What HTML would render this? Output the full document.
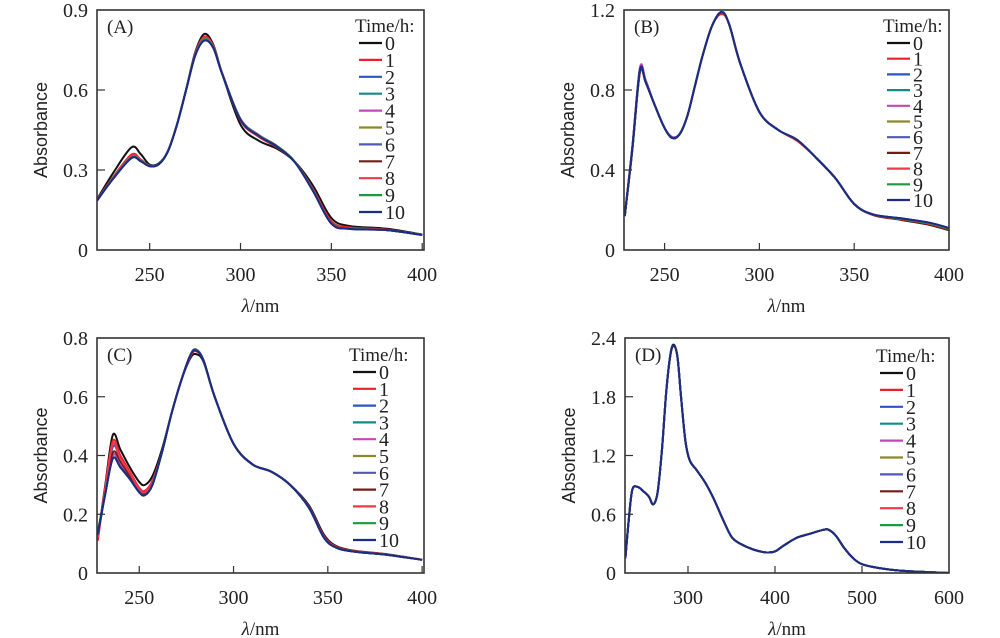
<!DOCTYPE html>
<html><head><meta charset="utf-8"><style>
html,body{margin:0;padding:0;background:#fff;}
svg{display:block;}
svg text{font-family:"Liberation Serif","DejaVu Serif",serif;fill:#222;}
svg text.sans{font-family:"Liberation Sans",sans-serif;}
</style></head><body>
<svg id="fig" width="1000" height="638" viewBox="0 0 1000 638" xmlns="http://www.w3.org/2000/svg"></svg>
<script>
const seriesLabels = ["0","1","2","3","4","5","6","7","8","9","10"];
const seriesColors = ["#111111","#e8202a","#2a55c8","#138a8a","#c048b8","#8a8a2a","#5058b8","#7a1818","#f0384a","#1a9a3a","#1c2a88"];

// Panel A
const wlA = [221,230,240,245,250,255,260,265,270,275,280,285,290,300,310,320,330,340,350,360,380,400];
const seriesA = [
 [0.190,0.290,0.385,0.360,0.320,0.325,0.370,0.470,0.600,0.740,0.810,0.770,0.660,0.470,0.410,0.380,0.330,0.240,0.120,0.090,0.080,0.058],
 [0.188,0.275,0.358,0.340,0.316,0.322,0.370,0.470,0.600,0.735,0.800,0.765,0.660,0.485,0.425,0.385,0.330,0.228,0.108,0.085,0.077,0.057],
 [0.186,0.270,0.348,0.335,0.315,0.322,0.370,0.470,0.600,0.730,0.790,0.760,0.660,0.490,0.430,0.390,0.330,0.222,0.100,0.080,0.075,0.057],
 [0.186,0.270,0.350,0.336,0.315,0.322,0.370,0.470,0.600,0.730,0.792,0.760,0.660,0.490,0.430,0.390,0.330,0.222,0.100,0.080,0.075,0.057],
 [0.187,0.272,0.352,0.337,0.316,0.322,0.370,0.470,0.600,0.732,0.795,0.762,0.662,0.492,0.432,0.390,0.330,0.223,0.101,0.080,0.075,0.057],
 [0.186,0.270,0.348,0.335,0.315,0.322,0.370,0.470,0.600,0.730,0.790,0.760,0.660,0.490,0.430,0.390,0.330,0.222,0.100,0.080,0.075,0.057],
 [0.185,0.268,0.345,0.333,0.314,0.321,0.369,0.469,0.598,0.728,0.786,0.758,0.658,0.488,0.428,0.388,0.328,0.220,0.099,0.079,0.075,0.056],
 [0.186,0.270,0.348,0.335,0.315,0.322,0.370,0.470,0.600,0.730,0.790,0.760,0.660,0.490,0.430,0.390,0.330,0.222,0.100,0.080,0.075,0.057],
 [0.187,0.272,0.352,0.337,0.316,0.322,0.370,0.470,0.600,0.732,0.794,0.762,0.661,0.490,0.430,0.390,0.330,0.223,0.101,0.080,0.075,0.057],
 [0.186,0.270,0.348,0.335,0.315,0.322,0.370,0.470,0.600,0.730,0.790,0.760,0.660,0.490,0.430,0.390,0.330,0.222,0.100,0.080,0.075,0.057],
 [0.185,0.268,0.345,0.333,0.314,0.321,0.369,0.469,0.598,0.728,0.785,0.758,0.658,0.488,0.428,0.388,0.328,0.220,0.099,0.079,0.075,0.056]
];
// Panel B
const wlB = [229,233,237,240,245,250,254,258,262,266,270,275,280,284,290,300,310,320,330,340,350,360,375,390,400];
const seriesB = [
 [0.17,0.50,0.89,0.84,0.72,0.61,0.56,0.58,0.67,0.82,0.97,1.12,1.19,1.13,0.93,0.69,0.60,0.55,0.46,0.36,0.23,0.175,0.150,0.125,0.098],
 [0.17,0.51,0.90,0.84,0.72,0.61,0.56,0.58,0.67,0.82,0.97,1.12,1.18,1.13,0.93,0.69,0.60,0.545,0.46,0.36,0.23,0.175,0.152,0.128,0.100],
 [0.17,0.51,0.91,0.85,0.72,0.61,0.565,0.58,0.67,0.82,0.97,1.12,1.19,1.13,0.93,0.69,0.60,0.55,0.46,0.36,0.23,0.178,0.158,0.135,0.108],
 [0.17,0.51,0.90,0.84,0.72,0.61,0.56,0.58,0.67,0.82,0.97,1.12,1.19,1.13,0.93,0.69,0.60,0.55,0.46,0.36,0.23,0.177,0.156,0.133,0.106],
 [0.17,0.52,0.91,0.85,0.72,0.61,0.565,0.58,0.67,0.82,0.97,1.12,1.19,1.13,0.93,0.69,0.60,0.55,0.46,0.36,0.23,0.177,0.156,0.133,0.106],
 [0.17,0.51,0.90,0.84,0.72,0.61,0.56,0.58,0.67,0.82,0.97,1.12,1.19,1.13,0.93,0.69,0.60,0.55,0.46,0.36,0.23,0.177,0.156,0.133,0.106],
 [0.17,0.51,0.90,0.84,0.72,0.61,0.56,0.58,0.67,0.82,0.97,1.12,1.19,1.13,0.93,0.69,0.60,0.55,0.46,0.36,0.23,0.178,0.158,0.135,0.108],
 [0.17,0.50,0.89,0.84,0.72,0.61,0.56,0.58,0.67,0.82,0.97,1.12,1.19,1.13,0.93,0.69,0.60,0.55,0.46,0.36,0.23,0.176,0.153,0.130,0.102],
 [0.17,0.51,0.90,0.84,0.72,0.61,0.56,0.58,0.67,0.82,0.97,1.12,1.19,1.13,0.93,0.69,0.60,0.55,0.46,0.36,0.23,0.177,0.155,0.132,0.105],
 [0.17,0.51,0.90,0.84,0.72,0.61,0.56,0.58,0.67,0.82,0.97,1.12,1.19,1.13,0.93,0.69,0.60,0.55,0.46,0.36,0.23,0.177,0.156,0.133,0.106],
 [0.17,0.51,0.90,0.84,0.72,0.61,0.56,0.58,0.67,0.82,0.97,1.12,1.19,1.13,0.93,0.69,0.60,0.55,0.46,0.36,0.23,0.178,0.158,0.136,0.110]
];
// Panel C
const wlC = [228,232,236,240,245,250,253,257,262,267,272,277,280,284,290,300,310,320,330,340,348,355,365,380,400];
const seriesC = [
 [0.12,0.30,0.47,0.42,0.36,0.31,0.300,0.33,0.42,0.54,0.65,0.73,0.745,0.72,0.60,0.44,0.37,0.345,0.30,0.23,0.13,0.090,0.075,0.065,0.045],
 [0.11,0.29,0.45,0.40,0.345,0.29,0.280,0.315,0.41,0.54,0.65,0.735,0.755,0.725,0.60,0.44,0.37,0.345,0.30,0.225,0.125,0.088,0.074,0.064,0.045],
 [0.13,0.28,0.43,0.39,0.335,0.285,0.272,0.31,0.41,0.54,0.65,0.74,0.760,0.725,0.60,0.44,0.37,0.345,0.30,0.222,0.120,0.085,0.072,0.063,0.045],
 [0.14,0.27,0.40,0.37,0.325,0.28,0.268,0.305,0.41,0.54,0.65,0.74,0.760,0.725,0.60,0.44,0.37,0.345,0.30,0.222,0.120,0.085,0.072,0.063,0.045],
 [0.13,0.27,0.40,0.37,0.325,0.28,0.268,0.305,0.41,0.54,0.65,0.74,0.762,0.725,0.60,0.44,0.37,0.345,0.30,0.222,0.120,0.085,0.072,0.063,0.045],
 [0.14,0.27,0.39,0.36,0.32,0.275,0.265,0.30,0.41,0.54,0.65,0.74,0.760,0.725,0.60,0.44,0.37,0.345,0.30,0.222,0.120,0.085,0.072,0.063,0.045],
 [0.13,0.27,0.39,0.36,0.32,0.275,0.265,0.30,0.41,0.54,0.65,0.74,0.760,0.725,0.60,0.44,0.37,0.345,0.30,0.222,0.120,0.085,0.072,0.063,0.045],
 [0.13,0.28,0.41,0.38,0.33,0.28,0.270,0.305,0.41,0.54,0.65,0.74,0.758,0.725,0.60,0.44,0.37,0.345,0.30,0.224,0.122,0.086,0.073,0.064,0.045],
 [0.12,0.29,0.44,0.39,0.34,0.285,0.275,0.31,0.41,0.54,0.65,0.74,0.758,0.725,0.60,0.44,0.37,0.345,0.30,0.224,0.122,0.086,0.073,0.064,0.045],
 [0.14,0.27,0.39,0.36,0.32,0.275,0.265,0.30,0.41,0.54,0.65,0.74,0.760,0.725,0.60,0.44,0.37,0.345,0.30,0.222,0.120,0.085,0.072,0.063,0.045],
 [0.13,0.27,0.39,0.36,0.32,0.275,0.265,0.30,0.41,0.54,0.65,0.74,0.758,0.725,0.60,0.44,0.37,0.345,0.30,0.222,0.120,0.085,0.072,0.063,0.045]
];
// Panel D
const wlD = [228,232,236,242,248,255,260,265,270,275,280,284,288,292,297,302,310,320,330,340,350,360,375,390,400,410,425,440,455,462,470,480,490,500,520,550,600];
const dCurve0 = [0.15,0.55,0.85,0.88,0.84,0.78,0.70,0.82,1.25,1.85,2.25,2.33,2.20,1.80,1.35,1.15,1.05,0.92,0.75,0.55,0.37,0.30,0.24,0.21,0.22,0.28,0.36,0.40,0.44,0.44,0.38,0.25,0.15,0.09,0.05,0.02,0.00];
const dCurve1 = [0.15,0.55,0.85,0.88,0.84,0.78,0.70,0.82,1.25,1.85,2.24,2.32,2.20,1.80,1.35,1.15,1.05,0.92,0.75,0.55,0.37,0.30,0.24,0.21,0.22,0.28,0.36,0.40,0.44,0.44,0.38,0.25,0.15,0.09,0.05,0.02,0.00];
const seriesD = [dCurve0,dCurve1,dCurve1,dCurve1,dCurve1,dCurve1,dCurve1,dCurve1,dCurve1,dCurve1,dCurve1];

const panels = [
 {id:"a",tag:"(A)",wl:wlA,series:seriesA,x0:97,x1:424,y0:10,y1:250,xmin:221,xmax:401,ymax:0.9,xt:[250,300,350,400],yt:[0,0.3,0.6,0.9],ytl:["0","0.3","0.6","0.9"],lx:359,ly:43,step:16.9},
 {id:"b",tag:"(B)",wl:wlB,series:seriesB,x0:624,x1:949,y0:10,y1:250,xmin:228.6,xmax:400,ymax:1.2,xt:[250,300,350,400],yt:[0,0.4,0.8,1.2],ytl:["0","0.4","0.8","1.2"],lx:887,ly:43,step:15.7},
 {id:"c",tag:"(C)",wl:wlC,series:seriesC,x0:97,x1:424,y0:338,y1:573,xmin:227.6,xmax:401,ymax:0.8,xt:[250,300,350,400],yt:[0,0.2,0.4,0.6,0.8],ytl:["0","0.2","0.4","0.6","0.8"],lx:353,ly:372,step:16.8},
 {id:"d",tag:"(D)",wl:wlD,series:seriesD,x0:625,x1:949,y0:338,y1:573,xmin:227.6,xmax:600,ymax:2.4,xt:[300,400,500,600],yt:[0,0.6,1.2,1.8,2.4],ytl:["0","0.6","1.2","1.8","2.4"],lx:880,ly:373,step:16.9}
];

const NS="http://www.w3.org/2000/svg";
const SERIF='"Liberation Serif","DejaVu Serif",serif';
const svg=document.getElementById("fig");
function mk(tag,attrs,parent){const e=document.createElementNS(NS,tag);for(const k in attrs)e.setAttribute(k,attrs[k]);(parent||svg).appendChild(e);return e;}
function smooth(pts){let d="M"+pts[0][0].toFixed(2)+","+pts[0][1].toFixed(2);for(let i=0;i<pts.length-1;i++){const p0=pts[i-1]||pts[i],p1=pts[i],p2=pts[i+1],p3=pts[i+2]||p2;const c1=[p1[0]+(p2[0]-p0[0])/6,p1[1]+(p2[1]-p0[1])/6],c2=[p2[0]-(p3[0]-p1[0])/6,p2[1]-(p3[1]-p1[1])/6];d+="C"+c1[0].toFixed(2)+","+c1[1].toFixed(2)+" "+c2[0].toFixed(2)+","+c2[1].toFixed(2)+" "+p2[0].toFixed(2)+","+p2[1].toFixed(2);}return d;}

panels.forEach(p=>{
 const g=mk("g",{});
 
 
 const sx=v=>p.x0+(v-p.xmin)/(p.xmax-p.xmin)*(p.x1-p.x0);
 const sy=v=>p.y1-v/p.ymax*(p.y1-p.y0);
 const clipId="clip-"+p.id;
 const cp=mk("clipPath",{id:clipId},g);mk("rect",{x:p.x0,y:p.y0,width:p.x1-p.x0,height:p.y1-p.y0},cp);
 const lines=mk("g",{"clip-path":"url(#"+clipId+")"},g);
 
 
 p.series.forEach((vals,i)=>{
  const pts=vals.map((v,j)=>[sx(p.wl[j]),sy(v)]);
  const path=mk("path",{d:smooth(pts),fill:"none",stroke:seriesColors[i],"stroke-width":2,"stroke-linejoin":"round"},lines);
  
  
 });
 const fr=mk("rect",{x:p.x0,y:p.y0,width:p.x1-p.x0,height:p.y1-p.y0,fill:"none",stroke:"#333","stroke-width":1.6},g);
 
 
 p.xt.forEach(t=>{
  const x=sx(t);
  if(x<p.x1-1) mk("line",{x1:x,x2:x,y1:p.y1,y2:p.y1-7,stroke:"#333","stroke-width":1.2},g);
  const tx=mk("text",{x:x,y:p.y1+31,"text-anchor":"middle","font-size":20,"font-family":SERIF},g);tx.textContent=t;
  
  
 });
 p.yt.forEach((t,k)=>{
  const y=sy(t);
  if(k>0&&k<p.yt.length-1) mk("line",{x1:p.x0,x2:p.x0+8,y1:y,y2:y,stroke:"#333","stroke-width":1.2},g);
  const ty=mk("text",{x:p.x0-9,y:y+7,"text-anchor":"end","font-size":20,"font-family":SERIF},g);ty.textContent=p.ytl[k];
  
  
 });
 const cx=(p.x0+p.x1)/2;
 const xl=mk("text",{x:cx,y:p.y1+62,"text-anchor":"middle","font-size":19,"font-family":SERIF},g);
 xl.innerHTML='<tspan font-style="italic">λ</tspan>/nm';
 
 
 const yc=(p.y0+p.y1)/2, yx=p.x0-50;
 const yl=mk("text",{x:yx,y:yc,"text-anchor":"middle","font-size":18,class:"sans","font-family":'"Liberation Sans",sans-serif',transform:"rotate(-90 "+yx+" "+yc+")"},g);
 yl.textContent="Absorbance";
 
 
 const tg=mk("text",{x:p.x0+10,y:p.y0+23,"font-size":19,"font-family":SERIF},g);tg.textContent=p.tag;
 
 
 const lg=mk("g",{},g);
 
 
 const lt=mk("text",{x:p.lx-4,y:p.ly-11,"font-size":19,"font-family":SERIF},lg);lt.textContent="Time/h:";
 
 
 seriesLabels.forEach((s,i)=>{
  const y=p.ly+i*p.step;
  const e=mk("g",{},lg);
  
  
  mk("line",{x1:p.lx,x2:p.lx+23,y1:y,y2:y,stroke:seriesColors[i],"stroke-width":2.2},e);
  const t=mk("text",{x:p.lx+26,y:y+7,"font-size":20,"font-family":SERIF},e);t.textContent=s;
 });
});
</script>
</body></html>
